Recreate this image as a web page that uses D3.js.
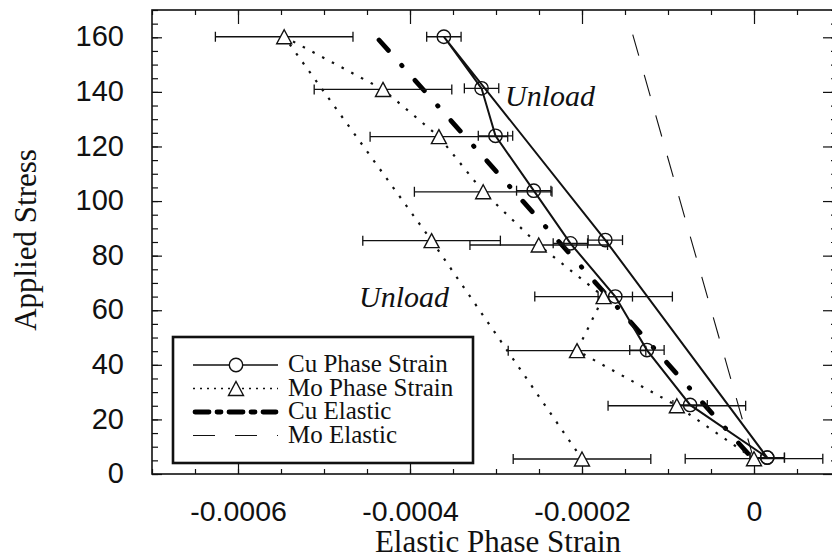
<!DOCTYPE html>
<html>
<head>
<meta charset="utf-8">
<script src="https://cdn.jsdelivr.net/npm/d3@7"></script>
<style>
	body { margin: 0; background: #fff; }
	svg { display: block; }
</style>
</head>
<body>
<div id="chart-area"></div>
<script>
// values
var cuStrain = [0.0000154, -0.0000743, -0.0001245, -0.0001613, -0.0002135, -0.0002561, -0.0003006, -0.0003168, -0.0003606, -0.0001729, 0.0000154];
var cuStress = [6, 25.3, 45.4, 65, 84.5, 103.8, 123.9, 141.3, 160.2, 85.7, 6];
var cuError = [0.00002, 0.00002, 0.00002, 0.00002, 0.00002, 0.00002, 0.00002, 0.00002, 0.00002, 0.00002, 0.00002];

var moStrain = [0, -0.0000897, -0.0002058, -0.0001749, -0.0002503, -0.0003149, -0.0003664, -0.0004314, -0.0005463, -0.0003749, -0.0002];
var moStress = [5.6, 25, 45.2, 65, 83.9, 103.4, 123.6, 140.9, 160.2, 85.5, 5.5];
var moError = [0.00008, 0.00008, 0.00008, 0.00008, 0.00008, 0.00008, 0.00008, 0.00008, 0.00008, 0.00008, 0.00008];

var cuElasticStrain = [-0.000436, 0];
var cuElasticStress = [159, 5];
var moElasticStrain = [-0.000141, 0];
var moElasticStress = [161, 5];

var xTicks = [-0.0006, -0.0004, -0.0002, 0];
var yTicks = [0, 20, 40, 60, 80, 100, 120, 140, 160];
var legendLabels = ['Cu Phase Strain', 'Mo Phase Strain', 'Cu Elastic', 'Mo Elastic'];

var margin = { top: 10, left: 152 };
var width = 688;
var height = 464;
var sans = '"Liberation Sans", Arial, sans-serif';
var serif = '"Liberation Serif", "Times New Roman", serif';

var svg = d3.select('#chart-area').append('svg')
	.attr('width', 832)
	.attr('height', 558);

var g = svg.append('g').attr('transform', `translate(${margin.left}, ${margin.top})`);

var x = d3.scaleLinear().domain([-0.0007, 0.0001]).range([0, width]);
var y = d3.scaleLinear().domain([0, 170]).range([height, 0]);

var xMinor = d3.range(-0.0007, 0.0001 + 1e-9, 0.00005);
var yMinor = d3.range(0, 171, 5);

// ticks on all four sides, pointing in
function ticksOnly(axis) {
	return function(sel) {
		sel.call(axis);
		sel.select('.domain').remove();
		sel.selectAll('line').attr('stroke', '#111').attr('stroke-width', 1.2);
	};
}

g.append('g').attr('transform', `translate(0, ${height})`)
	.call(ticksOnly(d3.axisBottom(x).tickValues(xMinor).tickSize(-5).tickFormat('')));
g.append('g')
	.call(ticksOnly(d3.axisTop(x).tickValues(xMinor).tickSize(-5).tickFormat('')));
g.append('g')
	.call(ticksOnly(d3.axisLeft(y).tickValues(yMinor).tickSize(-6).tickFormat('')));
g.append('g').attr('transform', `translate(${width}, 0)`)
	.call(ticksOnly(d3.axisRight(y).tickValues(yMinor).tickSize(-9).tickFormat('')));

var xAxis = g.append('g').attr('transform', `translate(0, ${height})`)
	.call(ticksOnly(d3.axisBottom(x).tickValues(xTicks).tickSize(-12).tickPadding(27)
		.tickFormat(d => d === 0 ? '0' : d3.format('.4f')(d).replace('−', '-'))));
xAxis.selectAll('text').attr('font-family', sans).attr('font-size', 28.5).attr('fill', '#111');

g.append('g')
	.call(ticksOnly(d3.axisTop(x).tickValues(xTicks).tickSize(-14).tickFormat('')));

var yAxis = g.append('g')
	.call(ticksOnly(d3.axisLeft(y).tickValues(yTicks).tickSize(-10).tickPadding(28)));
yAxis.selectAll('text').attr('font-family', sans).attr('font-size', 29).attr('fill', '#111').attr('dy', '0.3em');

g.append('g').attr('transform', `translate(${width}, 0)`)
	.call(ticksOnly(d3.axisRight(y).tickValues(yTicks).tickSize(-17).tickFormat('')));

g.append('rect')
	.attr('width', width)
	.attr('height', height)
	.attr('fill', 'none')
	.attr('stroke', '#111')
	.attr('stroke-width', 1.6);

// axis titles
g.append('text')
	.attr('x', 346)
	.attr('y', height + 78)
	.attr('text-anchor', 'middle')
	.attr('font-family', serif)
	.attr('font-size', 31)
	.attr('fill', '#111')
	.text('Elastic Phase Strain');

g.append('text')
	.attr('transform', 'rotate(-90)')
	.attr('x', -230)
	.attr('y', -116)
	.attr('text-anchor', 'middle')
	.attr('font-family', serif)
	.attr('font-size', 31)
	.attr('fill', '#111')
	.text('Applied Stress');

var line = d3.line().x(d => x(d[0])).y(d => y(d[1]));
var cuPts = cuStrain.map((v, i) => [v, cuStress[i], cuError[i]]);
var moPts = moStrain.map((v, i) => [v, moStress[i], moError[i]]);

// elastic lines
g.append('path')
	.attr('d', line(moElasticStrain.map((v, i) => [v, moElasticStress[i]])))
	.attr('fill', 'none')
	.attr('stroke', '#111')
	.attr('stroke-width', 1.1)
	.attr('stroke-dasharray', '22 20');

var cuElasticStyle = sel => sel
	.attr('fill', 'none')
	.attr('stroke', '#000')
	.attr('stroke-width', 4.8)
	.attr('stroke-linecap', 'round')
	.attr('stroke-dasharray', '14 20 0.5 19.5');

g.append('path')
	.attr('d', line(cuElasticStrain.map((v, i) => [v, cuElasticStress[i]])))
	.call(cuElasticStyle);

// phase strain lines
g.append('path')
	.attr('d', line(moPts))
	.attr('fill', 'none')
	.attr('stroke', '#111')
	.attr('stroke-width', 2.2)
	.attr('stroke-dasharray', '2.5 8.5');

g.append('path')
	.attr('d', line(cuPts))
	.attr('fill', 'none')
	.attr('stroke', '#111')
	.attr('stroke-width', 2);

// error bars
function errorBars(pts) {
	var bars = g.append('g').selectAll('g').data(pts).enter().append('g')
		.attr('stroke', '#111')
		.attr('stroke-width', 1.3);
	bars.append('line')
		.attr('x1', d => x(d[0] - d[2]))
		.attr('x2', d => x(d[0] + d[2]))
		.attr('y1', d => y(d[1]))
		.attr('y2', d => y(d[1]));
	[-1, 1].forEach(s => {
		bars.append('line')
			.attr('x1', d => x(d[0] + s * d[2]))
			.attr('x2', d => x(d[0] + s * d[2]))
			.attr('y1', d => y(d[1]) - 5)
			.attr('y2', d => y(d[1]) + 5);
	});
}
errorBars(moPts);
errorBars(cuPts);

function triangle(cx, cy) {
	return `M${cx},${cy - 7}L${cx + 7.5},${cy + 7}L${cx - 7.5},${cy + 7}Z`;
}

g.append('g').selectAll('path').data(moPts).enter().append('path')
	.attr('d', d => triangle(x(d[0]), y(d[1])))
	.attr('fill', '#fff')
	.attr('stroke', '#111')
	.attr('stroke-width', 1.4);

g.append('g').selectAll('circle').data(cuPts).enter().append('circle')
	.attr('cx', d => x(d[0]))
	.attr('cy', d => y(d[1]))
	.attr('r', 6.7)
	.attr('fill', 'none')
	.attr('stroke', '#111')
	.attr('stroke-width', 1.4);

// annotations
g.append('text')
	.attr('x', 353)
	.attr('y', 96)
	.attr('font-family', serif)
	.attr('font-style', 'italic')
	.attr('font-size', 30)
	.attr('fill', '#111')
	.text('Unload');

g.append('text')
	.attr('x', 207)
	.attr('y', 297)
	.attr('font-family', serif)
	.attr('font-style', 'italic')
	.attr('font-size', 30)
	.attr('fill', '#111')
	.text('Unload');

// legend
var legend = svg.append('g').attr('transform', 'translate(173, 337)');

legend.append('rect')
	.attr('width', 300)
	.attr('height', 126)
	.attr('fill', '#fff')
	.attr('stroke', '#111')
	.attr('stroke-width', 2.6);

legendLabels.forEach((label, i) => {
	var row = legend.append('g').attr('transform', `translate(0, ${28 + i * 23.5})`);
	var seg = row.append('line').attr('x1', 20).attr('x2', 105).attr('y1', 0).attr('y2', 0);

	if (i === 0) {
		seg.attr('stroke', '#111').attr('stroke-width', 1.4);
		row.append('circle').attr('cx', 63).attr('r', 6.7)
			.attr('fill', '#fff').attr('stroke', '#111').attr('stroke-width', 1.4);
	} else if (i === 1) {
		seg.attr('stroke', '#111').attr('stroke-width', 1.6).attr('stroke-dasharray', '2 5');
		row.append('path').attr('d', triangle(63, 0))
			.attr('fill', '#fff').attr('stroke', '#111').attr('stroke-width', 1.4);
	} else if (i === 2) {
		seg.call(cuElasticStyle).attr('x1', 22).attr('x2', 103).attr('stroke-dasharray', '14 8 4 8');
	} else {
		seg.attr('stroke', '#111').attr('stroke-width', 1.1).attr('stroke-dasharray', '22 20');
	}

	row.append('text')
		.attr('x', 115)
		.attr('y', 7)
		.attr('font-family', serif)
		.attr('font-size', 25)
		.attr('fill', '#111')
		.text(label);
});
</script>
</body>
</html>
